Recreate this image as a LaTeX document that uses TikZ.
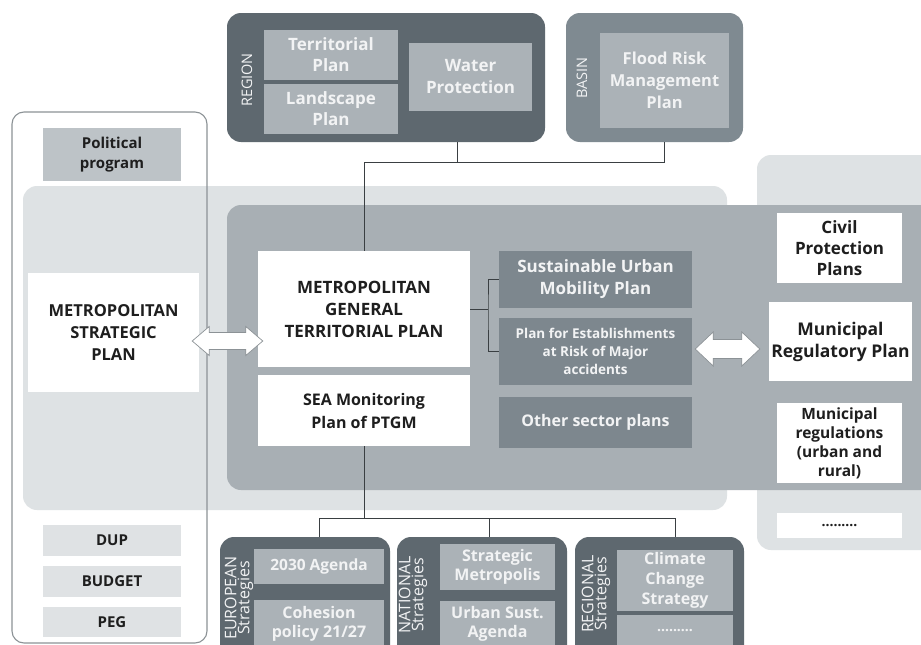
\documentclass[tikz,border=0pt]{standalone}
\usepackage{fontspec}
\setmainfont{Open Sans}
\usetikzlibrary{calc}
\definecolor{cdark}{HTML}{5E686F}
\definecolor{cbasin}{HTML}{7F8A91}
\definecolor{cinner}{HTML}{ABB2B7}
\definecolor{cmed}{HTML}{A8AFB4}
\definecolor{csect}{HTML}{7D878E}
\definecolor{clight}{HTML}{DEE2E4}
\definecolor{cpol}{HTML}{BDC3C7}
\definecolor{cdup}{HTML}{DFE2E4}
\definecolor{ctxt}{HTML}{1E1E1E}
\definecolor{cwtxt}{HTML}{F2F3F4}
\definecolor{cborder}{HTML}{8C9296}
\definecolor{cline}{HTML}{3A3F42}
\newcommand\bxR[7]{\node[#2, minimum width={(#5-#3)*1pt}, minimum height={(#6-#4)*1pt}] (#1) at ({(#3+#5)/2},{(#4+#6)/2}) {#7};}
\newcommand\fatdarrow[5]{\draw[fatarr] let \p1=(#1), \p2=(#2) in
  (\x1,\y1) -- (\x1+#3pt,\y1+#4pt) -- (\x1+#3pt,\y1+#5pt) -- (\x2-#3pt,\y1+#5pt) -- (\x2-#3pt,\y1+#4pt) -- (\x2,\y1)
  -- (\x2-#3pt,\y1-#4pt) -- (\x2-#3pt,\y1-#5pt) -- (\x1+#3pt,\y1-#5pt) -- (\x1+#3pt,\y1-#4pt) -- cycle;}
\tikzset{
  bx/.style={inner sep=0pt, align=center},
  fs/.style 2 args={font=\bfseries\fontsize{#1}{#2}\selectfont},
  graybx/.style={bx, fill=cinner, text=cwtxt},
  whitebx/.style={bx, fill=white, text=ctxt},
  sectbx/.style={bx, fill=csect, text=cwtxt},
  polbx/.style={bx, fill=cpol, text=ctxt},
  dupbx/.style={bx, fill=cdup, text=ctxt},
  panel/.style={rounded corners=14pt, inner sep=0pt},
  conn/.style={draw=cline, line width=0.9pt},
  fatarr/.style={draw=cborder, fill=white, line width=0.7pt, line join=miter},
  vlab/.style={inner sep=0pt, align=center, text=cwtxt, rotate=90, font=\fontsize{14.5}{13}\selectfont},
}
\begin{document}
\begin{tikzpicture}[x=1pt,y=-1pt]
\clip (0,0) rectangle (921,645);
\fill[white] (0,0) rectangle (921,645);
% big panels
\bxR{lightpanel}{panel, fill=clight}{23}{186}{727}{510}{}
\bxR{rightcol}{panel, fill=clight}{757}{155}{960}{550}{}
\bxR{medpanel}{panel, fill=cmed}{227}{205}{960}{490}{}
\bxR{leftpanel}{panel, rounded corners=12pt, draw=cborder, line width=1.1pt}{12}{112}{207}{643}{}
% top region
\bxR{region}{panel, fill=cdark}{227}{13}{545}{142}{}
\node[vlab] (lregion) at (247,80) {REGION};
\bxR{terr}{graybx, fs={17}{21}}{264}{30}{398}{80}{Territorial\\Plan}
\bxR{land}{graybx, fs={17}{21}}{264}{84}{398}{134}{Landscape\\Plan}
\bxR{water}{graybx, fs={17}{22}}{409}{43}{532}{111}{Water\\Protection}
\bxR{basin}{panel, fill=cbasin}{566}{13}{743}{142}{}
\node[vlab] (lbasin) at (582,78) {BASIN};
\bxR{flood}{graybx, fs={16.5}{22}}{600}{33}{729}{128}{Flood Risk\\Management\\Plan}
% left column
\bxR{pol}{polbx, fs={15}{20}}{43}{128}{181}{181}{Political\\program}
\bxR{msp}{whitebx, fs={16.5}{22}}{28}{273}{199}{392}{METROPOLITAN\\STRATEGIC\\PLAN}
\bxR{dup}{dupbx, fs={15}{18}}{43}{525}{181}{556}{DUP}
\bxR{budget}{dupbx, fs={15}{18}}{43}{566}{181}{597}{BUDGET}
\bxR{peg}{dupbx, fs={15}{18}}{43}{607}{181}{637}{PEG}
% centre
\bxR{mgtp}{whitebx, fs={17}{22}}{258}{251}{470}{367}{METROPOLITAN\\GENERAL\\TERRITORIAL PLAN}
\bxR{sea}{whitebx, fs={16}{23}}{258}{375}{470}{446}{SEA Monitoring\\Plan of PTGM}
\bxR{sump}{sectbx, fs={17}{22}}{499}{251}{692}{308}{Sustainable Urban\\Mobility Plan}
\bxR{pearm}{sectbx, fs={13.5}{18.3}}{499}{318}{692}{385}{Plan for Establishments\\at Risk of Major\\accidents}
\bxR{other}{sectbx, fs={16}{20}}{499}{397}{692}{448}{Other sector plans}
% right column
\bxR{civil}{whitebx, fs={17}{21}}{777}{213}{902}{283}{Civil\\Protection\\Plans}
\bxR{mrp}{whitebx, fs={17.5}{22}}{769}{302}{912}{381}{Municipal\\Regulatory Plan}
\bxR{mreg}{whitebx, fs={15.5}{19}}{777}{403}{902}{483}{Municipal\\regulations\\(urban and\\rural)}
\bxR{rdots}{whitebx, fs={14}{16}}{777}{513}{902}{538}{.........}
% bottom strategies
\bxR{eu}{panel, fill=cdark}{220}{537}{390}{665}{}
\node[vlab, font=\fontsize{16}{13}\selectfont] (leu) at (239,598) {EUROPEAN\\Strategies};
\bxR{agenda}{graybx, fs={15.5}{19}}{254}{549}{384}{584}{2030 Agenda}
\bxR{cohesion}{graybx, fs={16}{19}}{254}{600}{384}{648}{Cohesion\\policy 21/27}
\bxR{nat}{panel, fill=cdark}{397}{537}{567}{665}{}
\node[vlab, font=\fontsize{16}{13}\selectfont] (lnat) at (413,595) {NATIONAL\\Strategies};
\bxR{stratmet}{graybx, fs={16}{19}}{440}{544}{555}{590}{Strategic\\Metropolis}
\bxR{urbsust}{graybx, fs={16}{19}}{440}{601}{555}{646}{Urban Sust.\\Agenda}
\bxR{reg}{panel, fill=cdark}{575}{537}{744}{665}{}
\node[vlab, font=\fontsize{16}{13}\selectfont] (lreg) at (596,594) {REGIONAL\\Strategies};
\bxR{climate}{graybx, fs={16}{20}}{617}{550}{733}{611}{Climate\\Change\\Strategy}
\bxR{bdots}{graybx, fs={14}{16}}{617}{615}{733}{646}{.........}
% connectors top
\coordinate (ja) at (364,162);
\coordinate (jr) at (457,162);
\coordinate (jbasin) at (664,162);
\draw[conn] (mgtp.north) -- (ja) -- (jbasin) -- (basin.south -| jbasin);
\draw[conn] (jr) -- (region.south -| jr);
% bracket
\coordinate (bk) at (488,309);
\draw[conn] (mgtp.east) -- (bk);
\draw[conn] (sump.west) -| (bk) |- (pearm.west);
% bottom connectors
\coordinate (jb) at (364,518);
\coordinate (jeu) at (319,518);
\coordinate (jnat) at (489,518);
\coordinate (jreg) at (675,518);
\draw[conn] (sea.south) -- (jb);
\draw[conn] (eu.north -| jeu) -- (jeu) -- (jreg) -- (reg.north -| jreg);
\draw[conn] (jnat) -- (nat.north -| jnat);
% double arrows
\path (msp.east) ++(-7,8.5) coordinate (la1);
\path (mgtp.west) ++(5,32) coordinate (la2);
\fatdarrow{la1}{la2}{17}{14.5}{8.5}
\path (pearm.east) ++(3,-2.5) coordinate (ra1);
\path (mrp.west) ++(-9,7.5) coordinate (ra2);
\fatdarrow{ra1}{ra2}{18}{17}{9.5}
\end{tikzpicture}
\end{document}
